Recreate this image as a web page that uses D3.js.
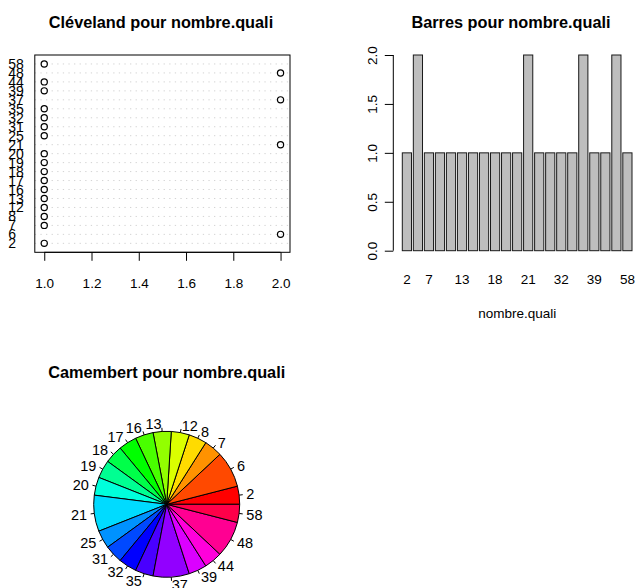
<!DOCTYPE html>
<html>
<head>
<meta charset="utf-8">
<script src="https://cdn.jsdelivr.net/npm/d3@7"></script>
<style>
  html, body { margin: 0; padding: 0; background: #ffffff; }
  svg { display: block; font-family: "Liberation Sans", Arial, Helvetica, sans-serif; }
</style>
</head>
<body>
<svg id="chart" width="635" height="588"></svg>
<script>
// Frequencies of each level of nombre.quali
const categories = ["2","6","7","8","12","13","16","17","18","19","20","21","25","31","32","35","37","39","44","48","58"];
const counts     = [ 1,  2,  1,  1,  1,   1,   1,   1,   1,   1,   1,   2,   1,   1,   1,   1,   2,   1,   1,   2,   1 ];

// Axis tick values and the bar labels that fit under the bars
const dotTicks = [1.0, 1.2, 1.4, 1.6, 1.8, 2.0];
const barTicks = [0.0, 0.5, 1.0, 1.5, 2.0];
const barNamesShown = ["2","7","13","18","21","32","39","58"];

const titles = {
  dot: "Cléveland pour nombre.quali",
  bar: "Barres pour nombre.quali",
  pie: "Camembert pour nombre.quali"
};
const barXLabel = "nombre.quali";

const svg = d3.select("#chart");
const axisFont = 13.5;
const titleFont = 16.3;

function title(text, x, y) {
  svg.append("text")
    .attr("x", x).attr("y", y)
    .attr("text-anchor", "middle")
    .attr("font-weight", "bold")
    .attr("font-size", titleFont)
    .attr("fill", "#000")
    .text(text);
}

/* ---------- Cleveland dot chart ---------- */
{
  const n = categories.length;
  const x = d3.scaleLinear().domain([0.96, 2.04]).range([34.8, 290]);
  const y = d3.scaleLinear().domain([0, n + 1]).range([252.3, 55]);
  const g = svg.append("g");
  const idx = d3.range(n);

  // dotted guide lines
  g.selectAll("line.guide").data(idx).join("line")
    .attr("class", "guide")
    .attr("x1", x.range()[0]).attr("x2", x.range()[1])
    .attr("y1", i => y(i + 1)).attr("y2", i => y(i + 1))
    .attr("stroke", "#d3d3d3").attr("stroke-width", 1)
    .attr("stroke-dasharray", "1.3 4.3");

  // points
  g.selectAll("circle").data(idx).join("circle")
    .attr("cx", i => x(counts[i])).attr("cy", i => y(i + 1))
    .attr("r", 3.1)
    .attr("fill", "none").attr("stroke", "#000").attr("stroke-width", 1.2);

  // labels on the left
  g.selectAll("text.lab").data(idx).join("text")
    .attr("class", "lab")
    .attr("x", 8.3).attr("y", i => y(i + 1))
    .attr("dy", "0.36em")
    .attr("font-size", axisFont + 0.5)
    .attr("fill", "#000")
    .text(i => categories[i]);

  // box
  g.append("rect")
    .attr("x", x.range()[0]).attr("y", y.range()[1])
    .attr("width", x.range()[1] - x.range()[0])
    .attr("height", y.range()[0] - y.range()[1])
    .attr("fill", "none").attr("stroke", "#000").attr("stroke-width", 1);

  // x axis
  const ax = d3.axisBottom(x).tickValues(dotTicks).tickFormat(d3.format(".1f"))
    .tickSize(8.5).tickPadding(17.5);
  const axg = g.append("g").attr("transform", `translate(0,${y.range()[0]})`).call(ax);
  axg.select(".domain")
    .attr("d", `M${x(dotTicks[0])},0H${x(dotTicks[dotTicks.length - 1])}`)
    .attr("stroke", "#000");
  axg.selectAll(".tick line").attr("stroke", "#000");
  axg.selectAll(".tick text").attr("font-size", axisFont).attr("fill", "#000")
    .attr("font-family", "Liberation Sans, Arial, sans-serif");

  title(titles.dot, 161, 28);
}

/* ---------- Bar chart ---------- */
{
  const n = categories.length;
  const space = 0.2, width = 1;
  const left = i => space + i * (width + space);
  const x = d3.scaleLinear().domain([0.2, 25.2]).range([402.3, 632]);
  const y = d3.scaleLinear().domain([0, 2]).range([250.7, 55]);
  const g = svg.append("g");

  g.selectAll("rect.bar").data(counts).join("rect")
    .attr("class", "bar")
    .attr("x", (d, i) => x(left(i)))
    .attr("width", (d, i) => x(left(i) + width) - x(left(i)))
    .attr("y", d => y(d))
    .attr("height", d => y(0) - y(d))
    .attr("fill", "#bebebe").attr("stroke", "#1a1a1a").attr("stroke-width", 1);

  // y axis, labels parallel to the axis
  const axisX = 393.3;
  const ay = d3.axisLeft(y).tickValues(barTicks).tickFormat(d3.format(".1f"))
    .tickSize(8.5).tickPadding(0);
  const ayg = g.append("g").attr("transform", `translate(${axisX},0)`).call(ay);
  ayg.select(".domain").attr("d", `M0,${y(0)}V${y(2)}`).attr("stroke", "#000");
  ayg.selectAll(".tick line").attr("stroke", "#000");
  ayg.selectAll(".tick text")
    .attr("font-size", axisFont).attr("fill", "#000")
    .attr("font-family", "Liberation Sans, Arial, sans-serif")
    .attr("text-anchor", "middle")
    .attr("x", null).attr("dy", null)
    .attr("transform", "translate(-16,0) rotate(-90)");

  // category names under the bars
  g.selectAll("text.name").data(barNamesShown).join("text")
    .attr("class", "name")
    .attr("x", d => { const i = categories.indexOf(d); return x(left(i) + width / 2); })
    .attr("y", 284)
    .attr("text-anchor", "middle")
    .attr("font-size", axisFont).attr("fill", "#000")
    .text(d => d);

  svg.append("text")
    .attr("x", x(left(0)) + (x(left(n - 1) + width) - x(left(0))) / 2)
    .attr("y", 318)
    .attr("text-anchor", "middle")
    .attr("font-size", axisFont).attr("fill", "#000")
    .text(barXLabel);

  title(titles.bar, 511, 28);
}

/* ---------- Pie chart ---------- */
{
  const n = categories.length;
  const cx = 166.7, cy = 504.3, r = 73;
  const g = svg.append("g").attr("transform", `translate(${cx},${cy})`);
  // counter-clockwise from 3 o'clock
  const pie = d3.pie().sort(null).value(d => d)
    .startAngle(Math.PI / 2).endAngle(Math.PI / 2 - 2 * Math.PI);
  const arcs = pie(counts);
  const arc = d3.arc().innerRadius(0).outerRadius(r);
  const colour = i => d3.hsl(360 * i / n, 1, 0.5).formatHex();

  g.selectAll("path").data(arcs).join("path")
    .attr("d", arc)
    .attr("fill", (d, i) => colour(i))
    .attr("stroke", "#000").attr("stroke-width", 1)
    .attr("stroke-linejoin", "round");

  const mid = d => (d.startAngle + d.endAngle) / 2;
  g.selectAll("line.tick").data(arcs).join("line")
    .attr("class", "tick")
    .attr("x1", d => Math.sin(mid(d)) * r).attr("y1", d => -Math.cos(mid(d)) * r)
    .attr("x2", d => Math.sin(mid(d)) * r * 1.05).attr("y2", d => -Math.cos(mid(d)) * r * 1.05)
    .attr("stroke", "#000").attr("stroke-width", 1);

  g.selectAll("text").data(arcs).join("text")
    .attr("x", d => Math.sin(mid(d)) * r * 1.1)
    .attr("y", d => -Math.cos(mid(d)) * r * 1.1)
    .attr("dy", "0.36em")
    .attr("text-anchor", d => Math.sin(mid(d)) < 0 ? "end" : "start")
    .attr("font-size", axisFont + 1).attr("fill", "#000")
    .text((d, i) => categories[i]);

  title(titles.pie, cx, 378);
}
</script>
</body>
</html>
